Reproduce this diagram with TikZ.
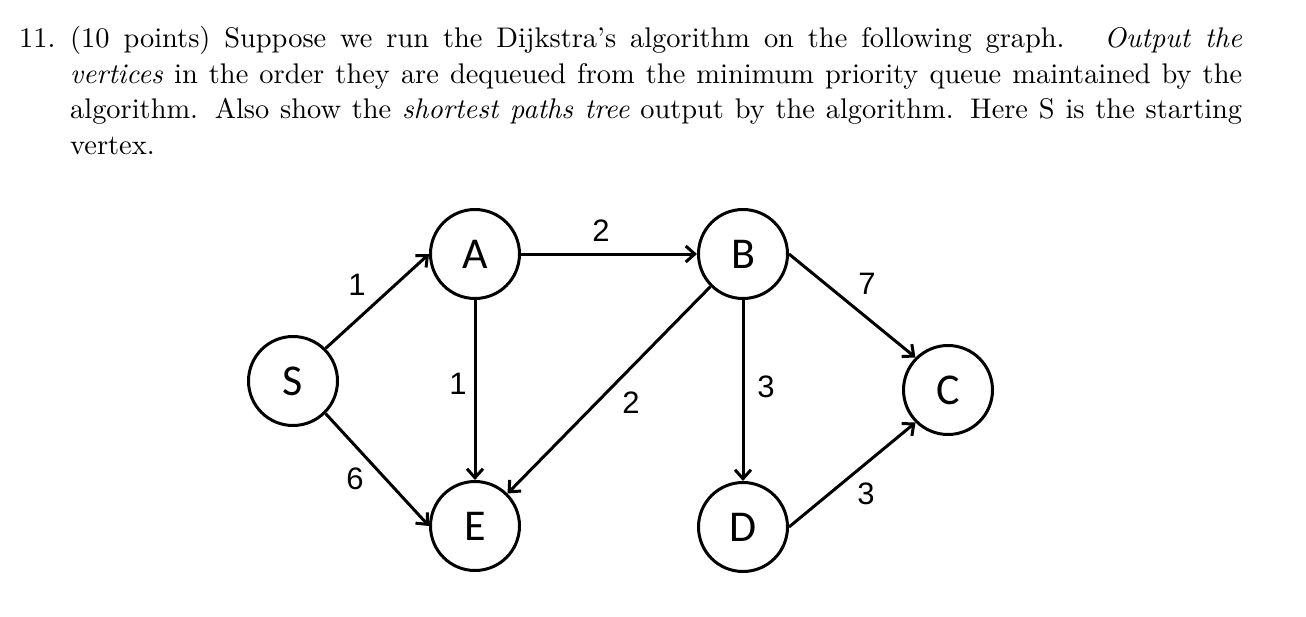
\documentclass[tikz,border=0pt]{standalone}
\usepackage{fontspec}
\setmainfont{lmroman10-regular.otf}[ItalicFont=lmroman10-italic.otf]
\newfontfamily\gfont{Carlito}
\newfontfamily\lfont{Liberation Sans}
\usetikzlibrary{arrows.meta}
\begin{document}
\begin{tikzpicture}[x=1pt,y=-1pt,
  vtx/.style={circle,draw,line width=3pt,minimum size=89pt,inner sep=0pt,font=\gfont\fontsize{44}{44}\selectfont},
  edge/.style={line width=3pt,-{Straight Barb[length=9pt,width=16pt]}},
  wt/.style={font=\lfont\fontsize{31}{31}\selectfont,inner sep=0pt},
  txt/.style={anchor=base west,inner sep=0pt,font=\fontsize{28.4}{34}\selectfont}]
\useasboundingbox[fill=white] (0,0) rectangle (1306,616);
% question text
\node[txt] (num) at (19,47.5) {11.};
\node[txt] (l1) at (70,47.5) {\makebox[1172pt][s]{(10 points) Suppose we run the Dijkstra's algorithm on the following graph. \ \textit{Output the}}};
\node[txt] (l2) at (70,83) {\makebox[1172pt][s]{\textit{vertices} in the order they are dequeued from the minimum priority queue maintained by the}};
\node[txt] (l3) at (70,118.5) {\makebox[1172pt][s]{algorithm. Also show the \textit{shortest paths tree} output by the algorithm. Here S is the starting}};
\node[txt] (l4) at (70,154) {vertex.};
% vertices
\node[vtx] (S) at (293,381) {S};
\node[vtx] (A) at (475,254) {A};
\node[vtx] (B) at (743,254) {B};
\node[vtx] (C) at (948,390) {C};
\node[vtx] (D) at (743,527) {D};
\node[vtx] (E) at (475,526) {E};
% edges
\draw[edge] (S.north east) -- (A.west);
\draw[edge] (S.south east) -- (E.west);
\draw[edge] (A.east) -- (B.west);
\draw[edge] (A.south) -- (E.north);
\draw[edge] (B.south west) -- (E.north east);
\draw[edge] (B.south) -- (D.north);
\draw[edge] (B.east) -- (C.north west);
\draw[edge] (D.east) -- (C.south west);
% weights
\node[wt] (wSA) at (357,285) {1};
\node[wt] (wSE) at (355,479) {6};
\node[wt] (wAE) at (458,384) {1};
\node[wt] (wAB) at (601,231) {2};
\node[wt] (wBE) at (631,403) {2};
\node[wt] (wBD) at (766,387) {3};
\node[wt] (wBC) at (867,284) {7};
\node[wt] (wDC) at (866,494) {3};
\end{tikzpicture}
\end{document}
